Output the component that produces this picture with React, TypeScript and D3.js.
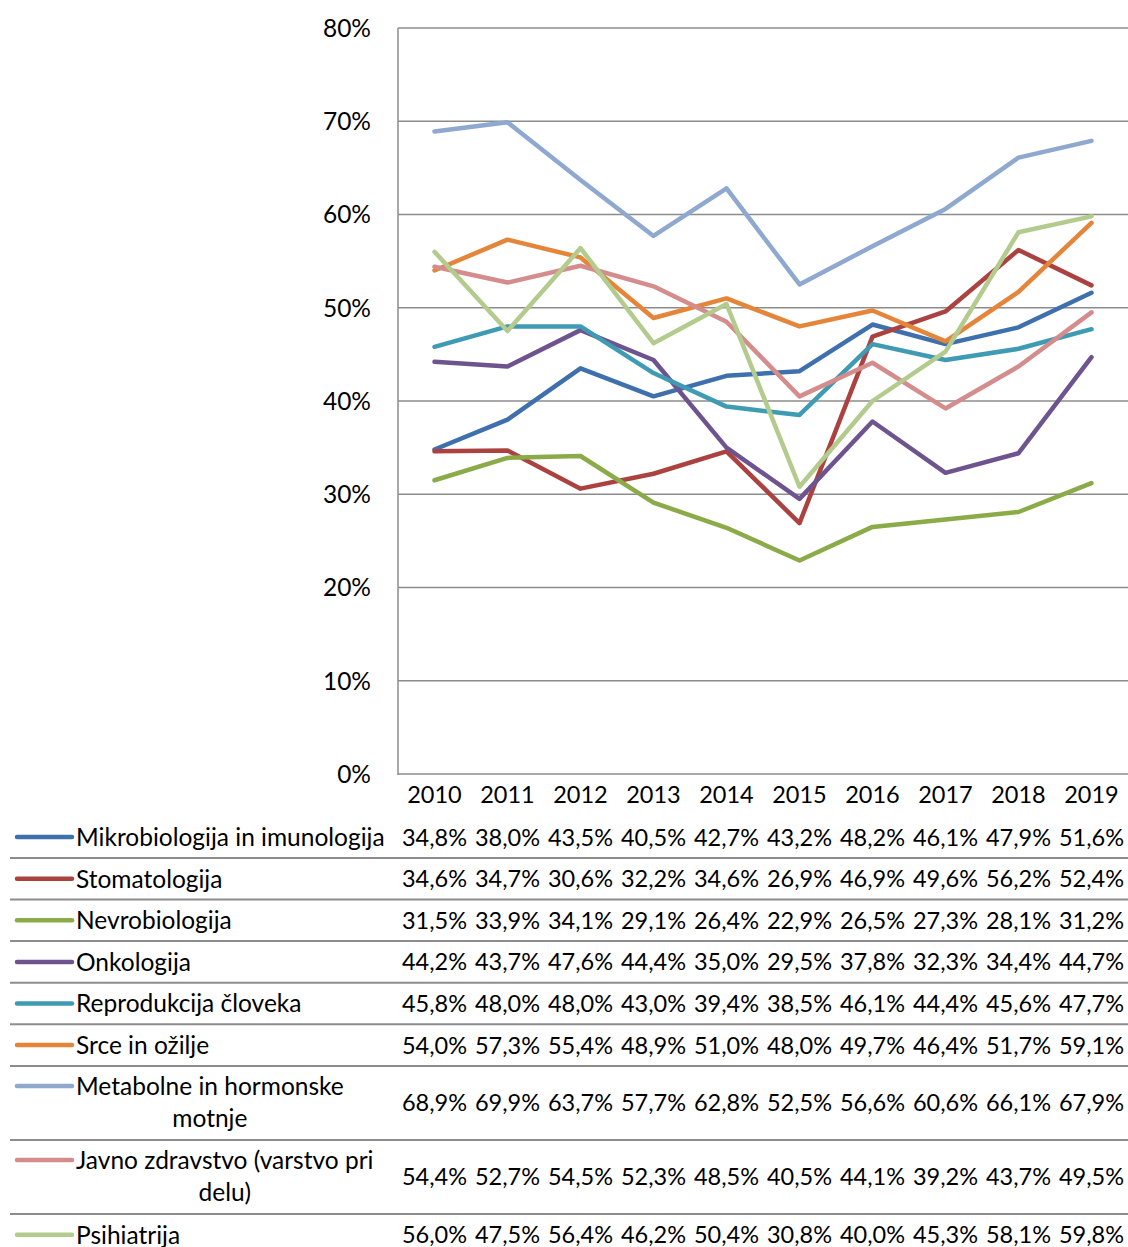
import React, { useEffect, useRef } from "react";
import * as d3 from "d3";

const years = ["2010", "2011", "2012", "2013", "2014", "2015", "2016", "2017", "2018", "2019"];
const yTicks = [0, 10, 20, 30, 40, 50, 60, 70, 80];

const seriesNames = [
  ["Mikrobiologija in imunologija"],
  ["Stomatologija"],
  ["Nevrobiologija"],
  ["Onkologija"],
  ["Reprodukcija človeka"],
  ["Srce in ožilje"],
  ["Metabolne in hormonske", "motnje"],
  ["Javno zdravstvo (varstvo pri", "delu)"],
  ["Psihiatrija"],
];

const mikrobiologija = [34.8, 38.0, 43.5, 40.5, 42.7, 43.2, 48.2, 46.1, 47.9, 51.6];
const stomatologija = [34.6, 34.7, 30.6, 32.2, 34.6, 26.9, 46.9, 49.6, 56.2, 52.4];
const nevrobiologija = [31.5, 33.9, 34.1, 29.1, 26.4, 22.9, 26.5, 27.3, 28.1, 31.2];
const onkologija = [44.2, 43.7, 47.6, 44.4, 35.0, 29.5, 37.8, 32.3, 34.4, 44.7];
const reprodukcija = [45.8, 48.0, 48.0, 43.0, 39.4, 38.5, 46.1, 44.4, 45.6, 47.7];
const srce = [54.0, 57.3, 55.4, 48.9, 51.0, 48.0, 49.7, 46.4, 51.7, 59.1];
const metabolne = [68.9, 69.9, 63.7, 57.7, 62.8, 52.5, 56.6, 60.6, 66.1, 67.9];
const javno = [54.4, 52.7, 54.5, 52.3, 48.5, 40.5, 44.1, 39.2, 43.7, 49.5];
const psihiatrija = [56.0, 47.5, 56.4, 46.2, 50.4, 30.8, 40.0, 45.3, 58.1, 59.8];

const seriesValues = [mikrobiologija, stomatologija, nevrobiologija, onkologija, reprodukcija, srce, metabolne, javno, psihiatrija];
const colors = ["#3F70AE", "#AC4240", "#8BAA48", "#6E548F", "#3F9AB4", "#E5853A", "#8FA8D0", "#D48D8C", "#B3CB8D"];

const FONT = "Lato, 'Open Sans', sans-serif";
const FS = 23.5;
const FS_LABEL = 24.5;

export default function App() {
  const ref = useRef<SVGSVGElement | null>(null);

  useEffect(() => {
    const svg = d3.select(ref.current);
    svg.selectAll("*").remove();

    const plotLeft = 398, plotRight = 1128, plotTop = 28, plotBottom = 774;
    const x = d3.scaleBand<string>().domain(years).range([plotLeft, plotRight]);
    const y = d3.scaleLinear().domain([0, 80]).range([plotBottom, plotTop]);
    const cx = (yr: string) => (x(yr) as number) + x.bandwidth() / 2;

    const g = svg.append("g");

    g.selectAll("line.grid")
      .data(yTicks)
      .join("line")
      .attr("x1", plotLeft)
      .attr("x2", plotRight)
      .attr("y1", (d) => y(d))
      .attr("y2", (d) => y(d))
      .attr("stroke", "#8c8c8c")
      .attr("stroke-width", 1.5);

    g.append("line")
      .attr("x1", plotLeft).attr("x2", plotLeft)
      .attr("y1", plotTop).attr("y2", plotBottom + 1)
      .attr("stroke", "#8c8c8c").attr("stroke-width", 1.5);

    g.selectAll("text.ytick")
      .data(yTicks)
      .join("text")
      .attr("x", 371)
      .attr("y", (d) => y(d))
      .attr("dy", "0.36em")
      .attr("text-anchor", "end")
      .attr("font-family", FONT)
      .attr("font-size", FS_LABEL)
      .attr("fill", "#000")
      .text((d) => `${d}%`);

    g.selectAll("text.xtick")
      .data(years)
      .join("text")
      .attr("x", (d) => cx(d))
      .attr("y", 795)
      .attr("dy", "0.36em")
      .attr("text-anchor", "middle")
      .attr("font-family", FONT)
      .attr("font-size", FS)
      .attr("fill", "#000")
      .text((d) => d);

    const line = d3.line<number>()
      .x((_, i) => cx(years[i]))
      .y((d) => y(d));
    seriesValues.forEach((vals, si) => {
      g.append("path")
        .attr("d", line(vals) as string)
        .attr("fill", "none")
        .attr("stroke", colors[si])
        .attr("stroke-width", 4.5)
        .attr("stroke-linejoin", "round")
        .attr("stroke-linecap", "round");
    });

    const rowHeights = seriesNames.map((n) => (n.length > 1 ? 74 : 41.6));
    let top = 816.3;
    const fmt = (v: number) => v.toFixed(1).replace(".", ",") + "%";
    seriesNames.forEach((names, si) => {
      const h = rowHeights[si];
      const mid = top + h / 2;
      const keyY = names.length > 1 ? mid - 17 : mid;
      g.append("line")
        .attr("x1", 17).attr("x2", 72)
        .attr("y1", keyY).attr("y2", keyY)
        .attr("stroke", colors[si])
        .attr("stroke-width", 4.5)
        .attr("stroke-linecap", "round");
      if (names.length === 1) {
        g.append("text")
          .attr("x", 76).attr("y", mid).attr("dy", "0.36em")
          .attr("font-family", FONT).attr("font-size", FS_LABEL).attr("fill", "#000")
          .text(names[0]);
      } else {
        const t1 = g.append("text")
          .attr("x", 76).attr("y", mid - 17).attr("dy", "0.36em")
          .attr("font-family", FONT).attr("font-size", FS_LABEL).attr("fill", "#000")
          .text(names[0]);
        const w = (t1.node() as SVGTextElement).getComputedTextLength();
        g.append("text")
          .attr("x", 76 + w / 2).attr("y", mid + 15).attr("dy", "0.36em")
          .attr("text-anchor", "middle")
          .attr("font-family", FONT).attr("font-size", FS_LABEL).attr("fill", "#000")
          .text(names[1]);
      }
      g.selectAll(null)
        .data(seriesValues[si])
        .join("text")
        .attr("x", (_, i) => cx(years[i]))
        .attr("y", mid)
        .attr("dy", "0.36em")
        .attr("text-anchor", "middle")
        .attr("font-family", FONT)
        .attr("font-size", FS)
        .attr("fill", "#000")
        .text((d) => fmt(d));
      top += h;
      if (si < seriesNames.length - 1) {
        g.append("line")
          .attr("x1", 10).attr("x2", plotRight)
          .attr("y1", top).attr("y2", top)
          .attr("stroke", "#8c8c8c").attr("stroke-width", 2);
      }
    });
  }, []);

  return (
    <svg
      ref={ref}
      width={1128}
      height={1247}
      style={{ position: "absolute", left: 0, top: 0, background: "#fff" }}
    />
  );
}
